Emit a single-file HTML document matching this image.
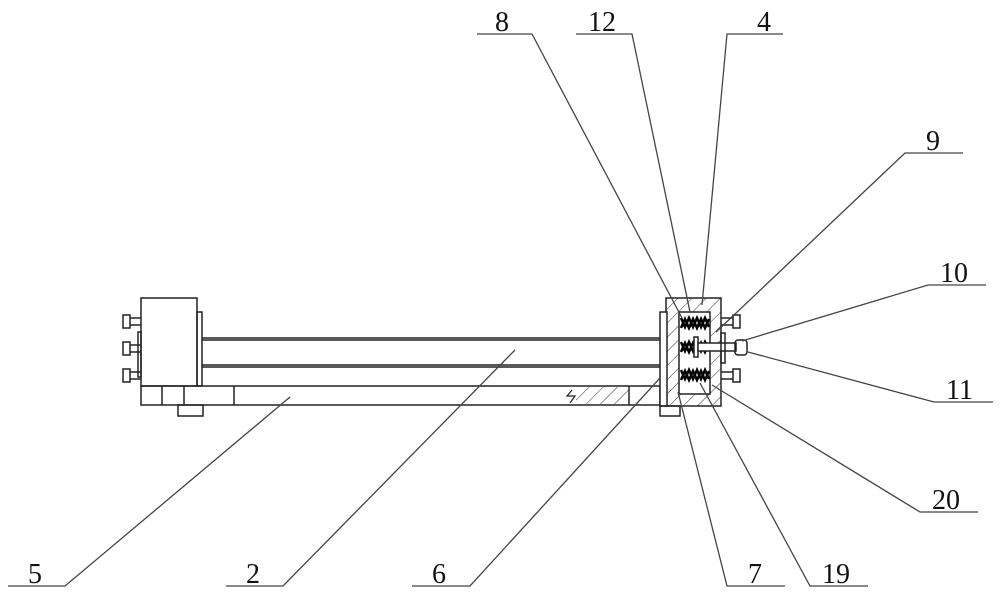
<!DOCTYPE html>
<html><head><style>
html,body{margin:0;padding:0;background:#fff;width:1000px;height:594px;overflow:hidden}
svg text{font-family:"Liberation Serif",serif;font-size:28px;fill:#111}
</style></head><body>
<svg width="1000" height="594" viewBox="0 0 1000 594" xmlns="http://www.w3.org/2000/svg">
<defs>
<pattern id="h" width="10" height="10" patternUnits="userSpaceOnUse" patternTransform="rotate(45)">
<line x1="0" y1="0" x2="0" y2="10" stroke="#333" stroke-width="1"/>
</pattern>
</defs>
<g fill="none" stroke="#222" stroke-width="1.5">
<!-- left block -->
<rect x="141" y="298" width="56" height="88"/>
<rect x="197" y="312" width="5" height="74"/>
<rect x="138" y="332" width="3" height="45"/>
<!-- left bolts -->
<rect x="123" y="315" width="7" height="13"/><line x1="130" y1="318" x2="141" y2="318"/><line x1="130" y1="325" x2="141" y2="325"/>
<rect x="123" y="342" width="7" height="13"/><line x1="130" y1="345" x2="141" y2="345"/><line x1="130" y1="352" x2="141" y2="352"/>
<rect x="123" y="369" width="7" height="13"/><line x1="130" y1="372" x2="141" y2="372"/><line x1="130" y1="379" x2="141" y2="379"/>
<!-- base -->
<rect x="141" y="386" width="519" height="19"/>
<line x1="162" y1="386" x2="162" y2="405"/>
<line x1="184" y1="386" x2="184" y2="405"/>
<line x1="234" y1="386" x2="234" y2="405"/>
<rect x="178" y="405" width="25" height="11"/>
<!-- rails -->
<line x1="202" y1="338" x2="660" y2="338"/>
<line x1="202" y1="340" x2="660" y2="340"/>
<line x1="202" y1="365" x2="660" y2="365"/>
<line x1="202" y1="367" x2="660" y2="367"/>
<!-- hatch in base -->
<rect x="576" y="387" width="53" height="17" fill="url(#h)" stroke="none"/>
<line x1="629" y1="386" x2="629" y2="405"/>
<path d="M572 390 L567 396 L575 396 L570 403" stroke-width="1.2"/>
<!-- right block -->
<rect x="666" y="298" width="55" height="108" fill="url(#h)"/>
<rect x="660" y="312" width="7" height="94" fill="#fff"/>
<rect x="679" y="312" width="31" height="82" fill="#fff"/>
<rect x="660" y="406" width="20" height="10"/>
<!-- springs -->
<g stroke="#000" stroke-width="2.5">
<path d="M681 318 l4 9 l4 -9 l4 9 l4 -9 l4 9 l4 -9 l4 9"/>
<path d="M681 328 l4 -9 l4 9 l4 -9 l4 9 l4 -9 l4 9 l4 -9"/>
<path d="M681 342 l4 9 l4 -9 l4 9 l4 -9 l4 9 l4 -9 l4 9"/>
<path d="M681 352 l4 -9 l4 9 l4 -9 l4 9 l4 -9 l4 9 l4 -9"/>
<path d="M681 370 l4 9 l4 -9 l4 9 l4 -9 l4 9 l4 -9 l4 9"/>
<path d="M681 380 l4 -9 l4 9 l4 -9 l4 9 l4 -9 l4 9 l4 -9"/>
</g>
<rect x="694" y="337" width="4" height="20" fill="#fff"/>
<rect x="698" y="343" width="38" height="8" fill="#fff"/>
<rect x="721" y="333" width="4" height="30"/>
<!-- right bolts -->
<rect x="733" y="315" width="7" height="13"/><line x1="721" y1="318" x2="733" y2="318"/><line x1="721" y1="325" x2="733" y2="325"/>
<rect x="735" y="340" width="12" height="15" rx="3"/>
<rect x="733" y="369" width="7" height="13"/><line x1="721" y1="372" x2="733" y2="372"/><line x1="721" y1="379" x2="733" y2="379"/>
</g>
<!-- leaders -->
<g fill="none" stroke="#444" stroke-width="1.3">
<polyline points="477,34 532,34 682,318"/>
<polyline points="576,34 632,34 690,312"/>
<polyline points="783,34 727,34 702,305"/>
<polyline points="963,153 905,153 716,332"/>
<polyline points="986,285 928,285 742,341"/>
<polyline points="993,402 934,402 748,352"/>
<polyline points="978,512 920,512 712,385"/>
<polyline points="868,586 810,586 700,383"/>
<polyline points="785,586 727,586 678,392"/>
<polyline points="412,586 470,586 660,378"/>
<polyline points="226,586 283,586 515,350"/>
<polyline points="8,586 65,586 290,397"/>
</g>
<text x="495" y="31">8</text>
<text x="588" y="31">12</text>
<text x="757" y="31">4</text>
<text x="926" y="150">9</text>
<text x="940" y="282">10</text>
<text x="946" y="399">11</text>
<text x="932" y="509">20</text>
<text x="28" y="583">5</text>
<text x="246" y="583">2</text>
<text x="432" y="583">6</text>
<text x="748" y="583">7</text>
<text x="822" y="583">19</text>
</svg>
</body></html>
